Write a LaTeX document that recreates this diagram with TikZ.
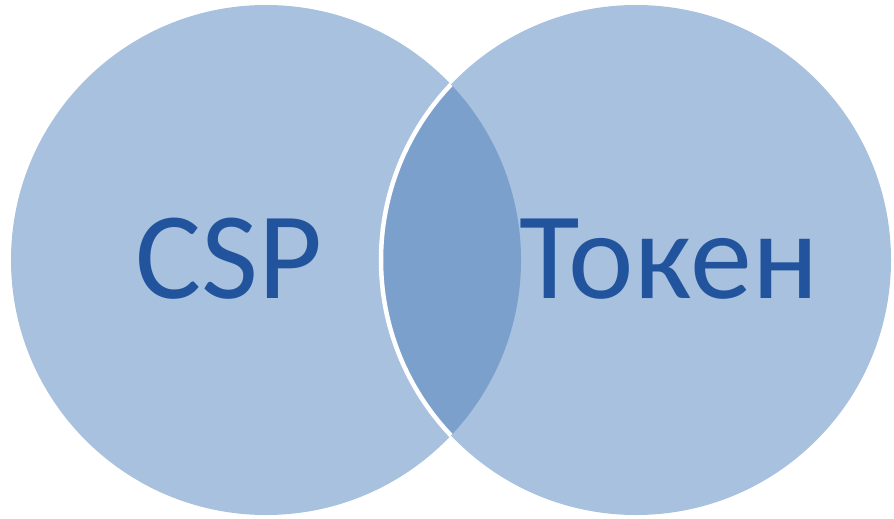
\documentclass[tikz,border=0pt]{standalone}
\usepackage{fontspec}
\setmainfont{Carlito}
\definecolor{circfill}{HTML}{A8C1DF}
\definecolor{overlapfill}{HTML}{7BA0CB}
\definecolor{labelblue}{HTML}{22549E}
\begin{document}
\begin{tikzpicture}[x=1pt,y=-1pt,
  venn/.style={circle,minimum size=510pt,inner sep=0pt},
  biglabel/.style={text=labelblue,font=\fontsize{124}{130}\selectfont,inner sep=0pt,anchor=base}]
\useasboundingbox (0,0) rectangle (894,519);
\node[venn,fill=circfill] (left) at (266,260) {};
\node[venn,fill=circfill] (right) at (636,260) {};
\begin{scope}
  \clip (266,260) circle[radius=255];
  \fill[overlapfill] (636,260) circle[radius=255];
  \draw[white,line width=4.5pt] (636,260) circle[radius=255];
\end{scope}
\node[biglabel] (csp) at (229,298) {CSP};
\node[biglabel] (token) at (669,298) {Токен};
\end{tikzpicture}
\end{document}
